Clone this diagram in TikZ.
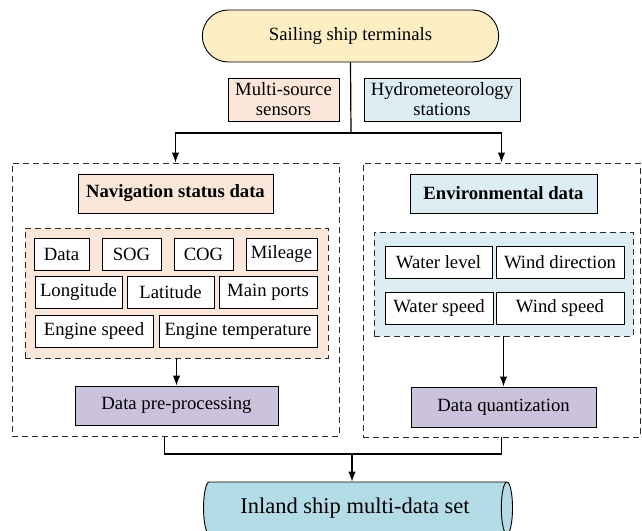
\documentclass[tikz,border=0pt]{standalone}
\usepackage{fontspec}
\setmainfont{Liberation Serif}
\usepackage{tikz}
\usetikzlibrary{arrows.meta, positioning, shapes.geometric, shapes.misc}
\usepackage{xcolor}
\definecolor{Cream}{HTML}{FDEFC4}
\definecolor{Peach}{HTML}{FBE7D9}
\definecolor{IceBlue}{HTML}{DCEEF3}
\definecolor{Lilac}{HTML}{CBC2DC}
\definecolor{SkyBlue}{HTML}{B3DCE6}
\definecolor{DashGray}{HTML}{2B2B2B}

\begin{document}
\begin{tikzpicture}[x=1pt, y=-1pt,
  txt/.style={font=\fontsize{18.7}{20}\selectfont},
  item/.style={draw, fill=white, line width=0.9pt, inner sep=0pt, txt},
  head/.style={draw, line width=0.9pt, inner sep=0pt,
               font=\fontsize{18.7}{20}\selectfont\bfseries},
  group/.style={draw=DashGray, dash pattern=on 6pt off 4pt, line width=0.9pt, inner sep=0pt},
  arr/.style={-{Latex[length=10pt,width=7.5pt]}, line width=1.2pt},
  link/.style={line width=1.2pt}]

\useasboundingbox (0,0) rectangle (642,530);

% ── Source ────────────────────────────────────────────────────────────────────
\node[rounded rectangle, draw, fill=Cream, line width=0.9pt,
      minimum width=303pt, minimum height=52pt, txt]
  (terminal) at (350.5, 36) {Sailing ship terminals};

\node[item, fill=Peach, align=center, minimum width=111pt, minimum height=43pt]
  (sensors) at (283.5, 99.5) {Multi-source\\sensors};
\node[item, fill=IceBlue, align=center, minimum width=156pt, minimum height=43pt]
  (hydro) at (442, 99.5) {Hydrometeorology\\stations};

% ── Navigation side ───────────────────────────────────────────────────────────
\node[group, minimum width=327pt, minimum height=273pt] (navgroup) at (175.5, 299.5) {};
\node[head, fill=Peach, minimum width=195pt, minimum height=39pt]
  (navhead) at (175.5, 193.5) {Navigation status data};
\node[group, fill=Peach, minimum width=303pt, minimum height=130pt] (navitems) at (176.5, 293) {};

\foreach \n/\x/\y/\w/\t in {
    data/61.5/254/55/Data, sog/131.5/254/59/SOG, cog/203.5/254/59/COG, mile/281.5/254/71/Mileage,
    lon/78.5/292/87/Longitude, lat/170.5/292/87/Latitude, port/268/292/98/Main ports,
    espeed/94/331/118/Engine speed, etemp/238/331/158/Engine temperature}{
  \node[item, minimum width=\w pt, minimum height=32pt] (\n) at (\x, \y) {\t};
}

\node[item, fill=Lilac, minimum width=203pt, minimum height=39pt]
  (navproc) at (176.5, 405.5) {Data pre-processing};

% ── Environment side ──────────────────────────────────────────────────────────
\node[group, minimum width=277pt, minimum height=274pt] (envgroup) at (501.5, 300) {};
\node[head, fill=IceBlue, minimum width=187pt, minimum height=39pt]
  (envhead) at (503.5, 193.5) {Environmental data};
\node[group, fill=IceBlue, minimum width=259pt, minimum height=104pt] (envitems) at (503.5, 284) {};

\foreach \n/\x/\y/\w/\t in {
    wlevel/438.5/262.5/107/Water level, wdir/560/262.5/128/Wind direction,
    wspeed/439/308/108/Water speed, windsp/560/308/128/Wind speed}{
  \node[item, minimum width=\w pt, minimum height=32pt] (\n) at (\x, \y) {\t};
}

\node[item, fill=Lilac, minimum width=185pt, minimum height=40pt]
  (envproc) at (503.5, 407) {Data quantization};

% ── Output ────────────────────────────────────────────────────────────────────
\node[cylinder, draw, fill=SkyBlue, line width=0.9pt, aspect=0.55,
      minimum width=52pt, minimum height=309pt, inner sep=0pt,
      font=\fontsize{22.5}{24}\selectfont]
  (dataset) at (355, 508) {Inland ship multi-data set};

% ── Connectors ────────────────────────────────────────────────────────────────
\coordinate (split) at (351, 133);
\coordinate (merge) at (352, 454);
\draw[link] (terminal.south) -- (split);
\draw[arr] (split) -| (navgroup.north);
\draw[arr] (split) -| (envgroup.north);
\draw[arr] (navitems.south) -- (navproc.north);
\draw[arr] (envitems.south) -- (envproc.north);
\draw[link] ([xshift=-11pt]navgroup.south) |- (merge) -| (envgroup.south);
\draw[arr] (merge) -- (merge |- dataset.north);

\end{tikzpicture}
\end{document}
